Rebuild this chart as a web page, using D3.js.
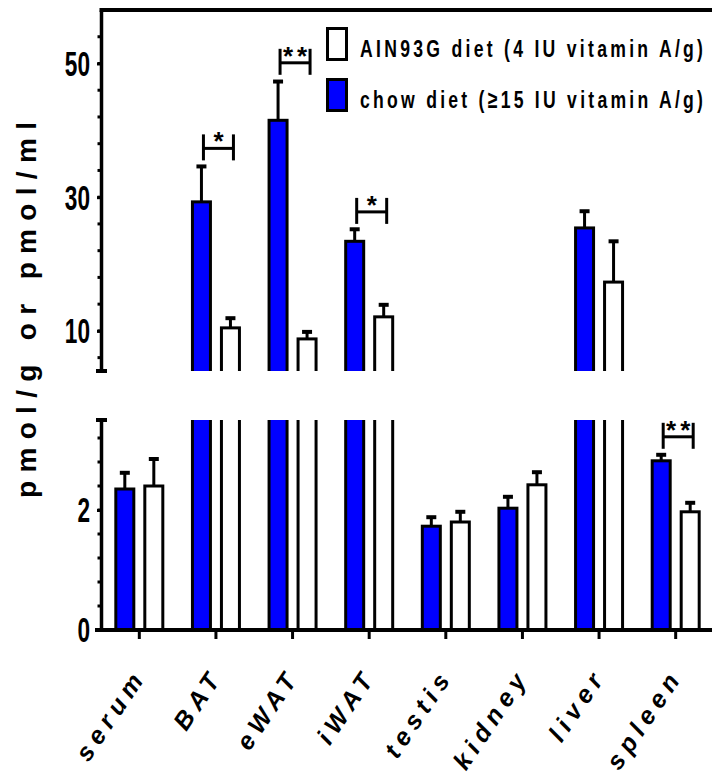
<!DOCTYPE html>
<html>
<head>
<meta charset="utf-8">
<script src="https://cdn.jsdelivr.net/npm/d3@7"></script>
<style>
  body { margin: 0; background: #fff; }
  svg { display: block; }
  text { font-family: "Liberation Sans", Arial, sans-serif; font-weight: bold; fill: #000; }
</style>
</head>
<body>
<svg width="712" height="773"></svg>
<script>
// tissues along the x axis
const categories = ["serum", "BAT", "eWAT", "iWAT", "testis", "kidney", "liver", "spleen"];
// chow diet (blue) means and upper error (SEM)
const chowMean = [2.35, 29.3, 41.5, 23.4, 1.73, 2.03, 25.4, 2.82];
const chowErr  = [0.27, 5.3, 5.8, 1.8, 0.15, 0.19, 2.5, 0.10];
// AIN93G diet (white) means and upper error
const ainMean = [2.40, 10.45, 8.8, 12.1, 1.80, 2.42, 17.3, 1.97];
const ainErr  = [0.45, 1.45, 1.05, 1.8, 0.17, 0.21, 6.1, 0.15];
// significance brackets: category, label, bracket level
const sigCats   = ["BAT", "eWAT", "iWAT", "spleen"];
const sigLabels = ["*", "**", "*", "**"];
const sigLevel  = [37.3, 50.1, 27.8, 3.22];
// axis ticks
const upperTicks = [10, 30, 50];
const lowerTicks = [0, 2];
const upperMinor = d3.range(6, 58, 4);
const lowerMinor = d3.range(0.4, 3.5, 0.4);
const series = ["chow", "ain"];
const legendLabels = ["AIN93G diet (4 IU vitamin A/g)", "chow diet (\u226515 IU vitamin A/g)"];

const blue = "#0000ff";
const svg = d3.select("svg");

const axisX = 101;
const x = d3.scaleBand().domain(categories).range([101, 714]);
const sub = d3.scalePoint().domain(series).range([-14.5, 14.5]);
const barW = 18;

const yTop = d3.scaleLinear().domain([4, 58]).range([371, 10]);
const yBot = d3.scaleLinear().domain([0, 3.5]).range([630, 420]);

const cx = c => x(c) + x.bandwidth() / 2;

// clip regions so the bars are cut open at the axis break
const defs = svg.append("defs");
defs.append("clipPath").attr("id", "clipTop").append("rect")
  .attr("x", 0).attr("width", 712).attr("y", 0).attr("height", yTop(4));
defs.append("clipPath").attr("id", "clipBot").append("rect")
  .attr("x", 0).attr("width", 712).attr("y", yBot(3.5)).attr("height", 773);

const bars = [];
categories.forEach((c, i) => {
  bars.push({c, s: "chow", v: chowMean[i], e: chowErr[i]});
  bars.push({c, s: "ain", v: ainMean[i], e: ainErr[i]});
});

const gTop = svg.append("g").attr("clip-path", "url(#clipTop)");
const gBot = svg.append("g").attr("clip-path", "url(#clipBot)");
const gErr = svg.append("g");

bars.forEach(d => {
  const bx = cx(d.c) + sub(d.s) - barW / 2;
  const fill = d.s === "chow" ? blue : "#fff";
  const broken = d.v > 3.5;
  // lower segment (extends past the clip when the bar is broken)
  const ly = broken ? yBot(3.5) - 6 : yBot(d.v);
  gBot.append("rect")
    .attr("x", bx).attr("width", barW)
    .attr("y", ly).attr("height", yBot(0) - ly)
    .attr("fill", fill).attr("stroke", "#000").attr("stroke-width", 3);
  if (broken) {
    gTop.append("rect")
      .attr("x", bx).attr("width", barW)
      .attr("y", yTop(d.v)).attr("height", yTop(4) + 6 - yTop(d.v))
      .attr("fill", fill).attr("stroke", "#000").attr("stroke-width", 3);
  }
  const ys = broken ? yTop : yBot;
  const ex = cx(d.c) + sub(d.s);
  gErr.append("line")
    .attr("x1", ex).attr("x2", ex)
    .attr("y1", ys(d.v)).attr("y2", ys(d.v + d.e))
    .attr("stroke", "#000").attr("stroke-width", 3);
  gErr.append("line")
    .attr("x1", ex - 5).attr("x2", ex + 5)
    .attr("y1", ys(d.v + d.e)).attr("y2", ys(d.v + d.e))
    .attr("stroke", "#000").attr("stroke-width", 4);
});

// y axes, drawn with d3.axisLeft, labels replaced by narrow tall text
function yAxis(scale, ticks, minor) {
  const a = svg.append("g").attr("transform", `translate(${axisX},0)`)
    .call(d3.axisLeft(scale).tickValues(ticks).tickSize(4).tickSizeOuter(0).tickFormat(""));
  a.select(".domain").attr("stroke-width", 3.5);
  a.selectAll(".tick line").attr("stroke-width", 3);
  svg.append("g").selectAll("line").data(minor).join("line")
    .attr("x1", axisX - 3.5).attr("x2", axisX)
    .attr("y1", d => scale(d)).attr("y2", d => scale(d))
    .attr("stroke", "#000").attr("stroke-width", 3);
  svg.append("g").selectAll("text").data(ticks).join("text")
    .attr("transform", d => `translate(${axisX - 11},${scale(d)}) scale(0.78,1.18)`)
    .attr("text-anchor", "end")
    .attr("dy", "0.36em")
    .attr("font-size", 29)
    .text(d3.format("d"));
}
yAxis(yTop, upperTicks, upperMinor);
yAxis(yBot, lowerTicks, lowerMinor);

// end caps at the axis break
[yTop(4), yBot(3.5)].forEach(yy => {
  svg.append("line").attr("x1", axisX - 5).attr("x2", axisX + 6)
    .attr("y1", yy).attr("y2", yy).attr("stroke", "#000").attr("stroke-width", 4);
});

// top frame line
svg.append("line").attr("x1", axisX - 1.5).attr("x2", 712)
  .attr("y1", yTop(58)).attr("y2", yTop(58)).attr("stroke", "#000").attr("stroke-width", 4);

// x axis
const axX = svg.append("g").attr("transform", `translate(0,${yBot(0)})`)
  .call(d3.axisBottom(x).tickSize(9).tickSizeOuter(0).tickFormat(""));
axX.select(".domain").attr("d", `M${axisX - 6},0H712`).attr("stroke-width", 4);
axX.selectAll(".tick line").attr("stroke-width", 3);

svg.append("g").selectAll("text").data(categories).join("text")
  .attr("transform", d => `translate(${cx(d) + 8},${yBot(0) + 46}) rotate(-56)`)
  .attr("text-anchor", "end")
  .attr("font-size", 25)
  .attr("font-style", "italic")
  .attr("letter-spacing", 6)
  .text(d => d);

// y axis title
svg.append("text")
  .attr("transform", "translate(36,310) rotate(-90)")
  .attr("text-anchor", "middle")
  .attr("font-size", 28)
  .attr("textLength", 376).attr("lengthAdjust", "spacing")
  .text("pmol/g or pmol/ml");

// significance brackets
sigCats.forEach((c, i) => {
  const scale = sigLevel[i] > 3.5 ? yTop : yBot;
  const yy = scale(sigLevel[i]);
  const x1 = cx(c) + sub("chow") + 2, x2 = cx(c) + sub("ain") + 3;
  const b = svg.append("g").attr("stroke", "#000").attr("stroke-width", 3);
  b.append("line").attr("x1", x1).attr("x2", x2).attr("y1", yy).attr("y2", yy);
  b.append("line").attr("x1", x1).attr("x2", x1).attr("y1", yy - 14).attr("y2", yy + 12);
  b.append("line").attr("x1", x2).attr("x2", x2).attr("y1", yy - 14).attr("y2", yy + 12);
  svg.append("text")
    .attr("x", (x1 + x2) / 2 + 2).attr("y", yy + 2)
    .attr("text-anchor", "middle")
    .attr("font-size", 26)
    .attr("letter-spacing", 4)
    .text(sigLabels[i]);
});

// legend
const legFills = ["#fff", blue];
const leg = svg.append("g");
legendLabels.forEach((t, i) => {
  const ly = 27 + i * 51;
  leg.append("rect").attr("x", 327.5).attr("y", ly + 1.5).attr("width", 19).attr("height", 31)
    .attr("fill", legFills[i]).attr("stroke", "#000").attr("stroke-width", 3);
  leg.append("text")
    .attr("transform", `translate(360,${ly + 30}) scale(0.8,1.12)`)
    .attr("font-size", 22)
    .attr("textLength", 343 / 0.8).attr("lengthAdjust", "spacing")
    .text(t);
});
</script>
</body>
</html>
